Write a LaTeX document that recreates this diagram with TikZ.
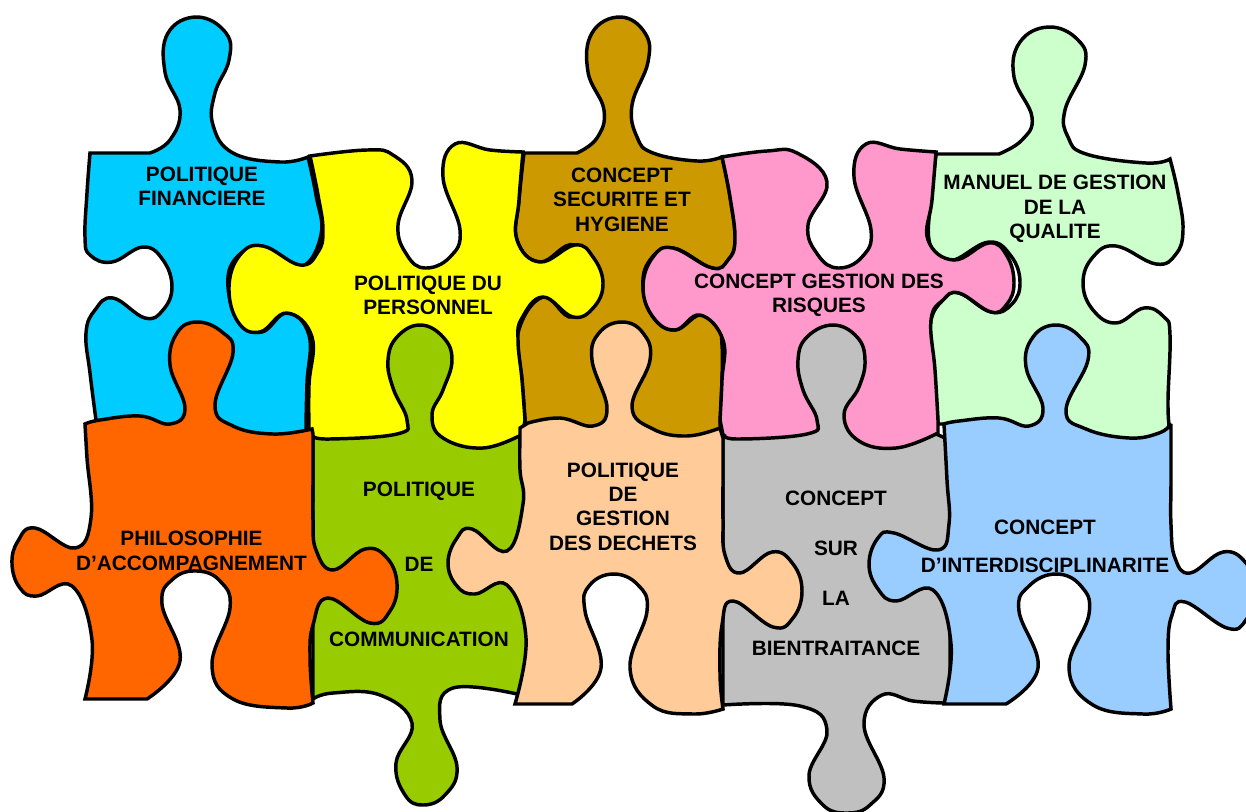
\documentclass[tikz,border=0pt]{standalone}
\usepackage{fontspec}
\setmainfont{Liberation Sans}
\definecolor{cblue}{HTML}{00CCFF}
\definecolor{cyellow}{HTML}{FFFF00}
\definecolor{cbrown}{HTML}{CC9900}
\definecolor{cpink}{HTML}{FF99CC}
\definecolor{cmint}{HTML}{CCFFCC}
\definecolor{corange}{HTML}{FF6600}
\definecolor{cgreen}{HTML}{99CC00}
\definecolor{cpeach}{HTML}{FFCC99}
\definecolor{cgrey}{HTML}{C0C0C0}
\definecolor{csky}{HTML}{99CCFF}
\tikzset{
  piece/.style={draw=black,line width=2.6pt,line join=miter,miter limit=3,fill=#1},
  lab/.style={font=\fontsize{15.6}{#1}\selectfont\bfseries,align=center,inner sep=0pt,text=black},
  sm/.style={smooth,tension=0.72}
}
\begin{document}
\begin{tikzpicture}[x=0.75pt,y=-0.75pt]
\useasboundingbox (0,0) rectangle (1246,811);
\clip (0,0) rectangle (1246,811);
\fill[white] (0,0) rectangle (1246,811);
% --- upper row, back
\draw[piece=cblue] (90,153) -- plot[sm] coordinates {(150,153)(170,140)(180,110)(165,72)(168,33)(197,17)(226,33)(229,60)(215,93)(213,125)(233,153)(280,162)(308,157)}
 -- plot[sm] coordinates {(308,157)(316,195)(321,235)(300,267)(263,248)(236,258)(228,287)(240,322)(262,332)(287,313)(309,335)(307,383)(306,425)}
 -- (306,445) -- (96,445) -- plot[sm] coordinates {(96,420)(90,373)(86,333)(95,310)(113,298)(145,318)(163,310)(172,287)(163,260)(143,247)(112,262)(90,255)(85,237)(87,193)(90,153)} -- cycle;
\draw[piece=cbrown] (524,153) -- plot[sm] coordinates {(577,153)(597,138)(604,110)(588,72)(592,33)(620,17)(645,33)(648,62)(632,105)(637,137)(653,153)(697,161)(722,157)}
 -- plot[sm] coordinates {(722,157)(730,197)(735,240)(728,260)(712,268)(673,248)(650,260)(643,287)(653,317)(675,330)(700,315)(718,326)(722,345)(722,380)(720,425)}
 -- (720,445) -- (525,445) -- plot[sm] coordinates {(525,420)(522,380)(518,333)(543,297)(573,317)(602,283)(575,245)(540,262)(517,240)(519,200)(524,153)} -- cycle;
\draw[piece=cmint] (936,154) -- plot[sm] coordinates {(999,154)(1022,140)(1032,117)(1014,77)(1020,42)(1049,27)(1078,40)(1085,65)(1065,110)(1068,137)(1086,154)(1146,163)(1170,159)}
 -- plot[sm] coordinates {(1170,159)(1178,193)(1183,230)(1176,254)(1156,264)(1116,246)(1093,257)(1083,283)(1093,310)(1116,323)(1144,308)(1164,317)(1170,335)(1168,400)(1169,424)}
 -- (1165,445) -- (955,445) -- (950,424) -- plot[sm] coordinates {(938,424)(934,380)(931,350)(931,320)(943,300)(959,293)(991,312)(1012,304)(1020,282)(1011,256)(989,242)(954,260)(938,255)(929,240)(930,207)(936,154)} -- cycle;
% --- upper row, front
\draw[piece=cyellow] (310,156) -- plot[sm] coordinates {(310,156)(367,150)(393,155)(412,180)(398,225)(407,255)(425,268)(450,257)(460,230)(443,177)(455,144)(490,150)(523,152)}
 -- plot[sm] coordinates {(523,152)(519,200)(517,240)(540,262)(575,245)(593,257)(603,283)(594,307)(573,317)(543,297)(522,318)(518,340)(522,380)(525,420)}
 -- (520,450) -- (316,450) -- plot[sm] coordinates {(309,430)(309,385)(312,337)(287,313)(260,332)(238,322)(229,287)(240,255)(263,246)(300,265)(318,252)(323,230)(318,195)(310,156)} -- cycle;
\draw[piece=cpink] (722,157) -- plot[sm] coordinates {(722,157)(767,151)(797,153)(827,182)(808,225)(818,255)(838,268)(862,257)(871,230)(854,177)(866,144)(900,149)(936,152)}
 -- plot[sm] coordinates {(936,152)(932,200)(928,240)(954,260)(989,243)(1007,256)(1014,283)(1007,304)(991,312)(959,293)(943,300)(931,320)(935,370)(938,420)}
 -- (938,450) -- (726,450) -- plot[sm] coordinates {(720,420)(722,380)(723,340)(700,315)(675,330)(653,317)(643,287)(653,257)(673,248)(712,268)(728,260)(735,240)(730,197)(722,157)} -- cycle;
% --- lower row, back
\draw[piece=cgreen] (313,436) -- plot[sm] coordinates {(313,436)(330,439)(397,434)(407,420)(393,388)(388,360)(397,337)(420,325)(443,337)(452,360)(443,390)(432,415)(443,438)(483,448)(523,434)}
 -- (530,434) -- (530,695) -- plot[sm] coordinates {(517,694)(453,688)(440,720)(457,767)(445,795)(423,805)(405,795)(396,763)(412,723)(380,695)(333,693)(313,699)}
 -- (313,436) -- cycle;
\draw[piece=cgrey] (723,438) -- plot[sm] coordinates {(725,434)(737,439)(807,434)(817,420)(803,390)(798,360)(807,337)(833,325)(857,337)(865,360)(859,387)(844,415)(859,441)(896,448)(936,434)}
 -- (950,440) -- (950,703) -- plot[sm] coordinates {(943,703)(913,701)(882,695)(864,725)(884,778)(870,805)(847,813)(823,805)(809,775)(827,730)(800,706)(723,705)}
 -- cycle;
% --- lower row, front
\draw[piece=corange] (85,424) -- plot[sm] coordinates {(85,424)(100,420)(140,416)(170,424)(185,408)(170,365)(177,333)(197,322)(222,332)(233,353)(215,405)(233,426)(273,434)(312,429)}
 -- plot[sm] coordinates {(313,434)(313,480)(313,520)(316,550)(333,570)(365,549)(387,558)(397,584)(390,611)(370,623)(328,598)(313,625)(310,658)(313,703)}
 -- plot[sm] coordinates {(313,703)(287,708)(233,699)(212,665)(230,608)(220,581)(197,571)(173,579)(162,604)(180,661)(147,699)}
 -- (85,699) -- plot[sm] coordinates {(85,699)(92,640)(72,586)(37,596)(20,588)(12,564)(18,541)(35,528)(75,548)(91,518)(87,458)(85,424)} -- cycle;
\draw[piece=cpeach] (520,428) -- plot[sm] coordinates {(528,423)(560,418)(593,426)(607,408)(592,360)(599,333)(622,322)(643,333)(650,360)(632,407)(653,429)(687,436)(720,428)}
 -- plot[sm] coordinates {(723,438)(723,480)(723,520)(725,555)(740,573)(772,552)(793,564)(802,591)(793,618)(773,627)(733,601)(722,625)(720,674)(723,709)}
 -- plot[sm] coordinates {(723,709)(693,714)(653,706)(630,668)(647,611)(638,585)(613,574)(589,586)(585,611)(601,668)(572,704)}
 -- (515,704) -- plot[sm] coordinates {(515,704)(526,638)(507,585)(475,594)(457,586)(448,563)(457,538)(472,529)(507,551)(523,504)(520,470)(520,434)} -- cycle;
\draw[piece=csky] (944,424) -- plot[sm] coordinates {(944,424)(959,421)(999,418)(1029,426)(1043,408)(1026,367)(1033,337)(1056,325)(1080,337)(1088,360)(1066,410)(1086,429)(1129,438)(1159,433)(1171,424)}
 -- plot[sm] coordinates {(1171,424)(1171,480)(1171,525)(1175,558)(1190,573)(1223,552)(1246,563)(1256,590)(1246,620)(1227,628)(1185,602)(1172,615)(1168,650)(1171,709)}
 -- plot[sm] coordinates {(1171,709)(1143,714)(1093,705)(1069,668)(1089,614)(1081,586)(1056,574)(1029,586)(1019,611)(1038,668)(1006,704)}
 -- (944,704) -- plot[sm] coordinates {(944,704)(951,644)(933,590)(896,601)(878,589)(869,564)(878,538)(894,533)(938,550)(949,524)(947,480)(944,424)} -- cycle;
% --- labels
\node[lab=18] (t1) at (202,186.5) {POLITIQUE\\FINANCIERE};
\node[lab=18.4] (t2) at (428,295.5) {POLITIQUE DU\\PERSONNEL};
\node[lab=18.4] (t3) at (622,199.5) {CONCEPT\\SECURITE ET\\HYGIENE};
\node[lab=18.4] (t4) at (819,295.5) {CONCEPT GESTION DES\\RISQUES};
\node[lab=18.2] (t5) at (1055,209) {MANUEL DE GESTION\\DE LA\\QUALITE};
\node[lab=18.6] (t6) at (191.5,550.5) {PHILOSOPHIE\\D’ACCOMPAGNEMENT};
\node[lab=56.25] (t7) at (419,564) {POLITIQUE\\DE\\COMMUNICATION};
\node[lab=18.3] (t8) at (623,506.5) {POLITIQUE\\DE\\GESTION\\DES DECHETS};
\node[lab=37.5] (t9) at (836,573) {CONCEPT\\SUR\\LA\\BIENTRAITANCE};
\node[lab=28.5] (t10) at (1045,546) {CONCEPT\\D’INTERDISCIPLINARITE};
\end{tikzpicture}
\end{document}
